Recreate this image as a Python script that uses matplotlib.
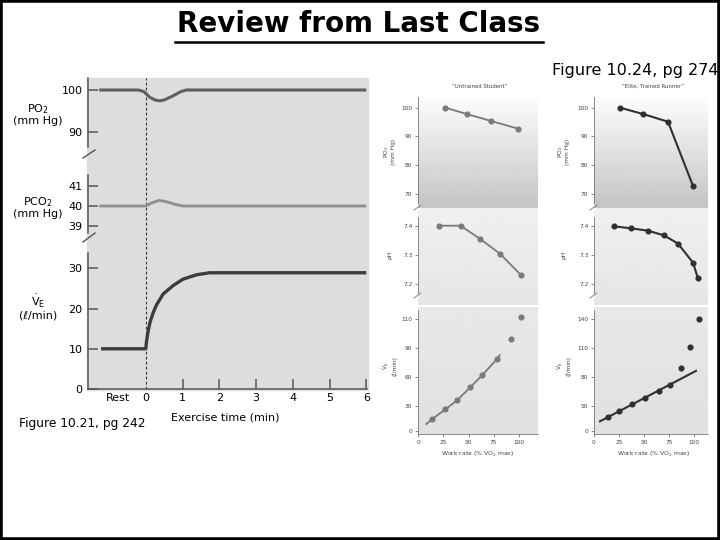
import numpy as np
import matplotlib
matplotlib.use("Agg")
import matplotlib.pyplot as plt
from matplotlib.patches import Rectangle
from matplotlib.lines import Line2D

# ---- left figure (10.21): time course ----
po2_t = [-1.27, -0.2, -0.05, 0.1, 0.25, 0.38, 0.5, 0.74, 0.95, 1.1, 6.0]
po2_v = [100, 100, 99.6, 98.3, 97.6, 97.4, 97.6, 98.6, 99.6, 100, 100]
pco2_t = [-1.27, 0.0, 0.15, 0.36, 0.55, 0.8, 1.01, 6.0]
pco2_v = [40, 40, 40.15, 40.28, 40.22, 40.08, 40, 40]
ve_t = [-1.22, 0.0, 0.01, 0.05, 0.11, 0.2, 0.29, 0.47, 0.74, 1.01, 1.38, 1.74, 2.0, 6.0]
ve_v = [10, 10, 11.2, 13.8, 16.5, 19.0, 20.9, 23.6, 25.7, 27.3, 28.4, 28.9, 28.9, 28.9]
time_ticks = [-0.75, 0, 1, 2, 3, 4, 5, 6]
time_labels = ["Rest", "0", "1", "2", "3", "4", "5", "6"]

# ---- right figure (10.24): untrained vs elite ----
un_po2_x = [27, 48, 72, 99]
un_po2_y = [100, 97.8, 95.4, 92.7]
un_ph_x = [21, 42, 61, 81, 102]
un_ph_y = [7.40, 7.40, 7.356, 7.305, 7.232]
un_ve_x = [14, 26.5, 38.4, 51.3, 63.6, 77.8, 91.7, 101.9]
un_ve_y = [15, 26.4, 36.3, 49.5, 62.4, 78.6, 96.4, 111.4]
un_fit_x = [8, 14, 26.5, 38.4, 51.3, 63.6, 77.8, 81]
un_fit_y = [8.4, 14.5, 25.8, 35.8, 49.2, 62.2, 78.4, 83]

el_po2_x = [26, 49, 74, 99]
el_po2_y = [100, 97.8, 95.1, 72.7]
el_ph_x = [20, 37, 54, 70, 84, 99, 104]
el_ph_y = [7.398, 7.391, 7.383, 7.367, 7.339, 7.274, 7.22]
el_ve_x = [13.7, 25.3, 38.3, 51, 65.3, 76, 86.7, 95.7, 104.7]
el_ve_y = [29, 40, 52, 58, 66, 72, 90, 111, 140]
el_fit_x = [6, 102]
el_fit_y = [19.5, 86.6]

un_ve_ticks = [0, 30, 60, 90, 110]
el_ve_ticks = [0, 50, 80, 110, 140]
work_ticks = [0, 25, 50, 75, 100]

W, H = 720, 540


def rect(x0, y0, x1, y1):
    return [x0 / W, 1 - y1 / H, (x1 - x0) / W, (y1 - y0) / H]


def fx(x):
    return x / W


def fy(y):
    return 1 - y / H


def brk(fig, x0, y0, x1, y1, color, lw):
    fig.add_artist(Line2D([fx(x0), fx(x1)], [fy(y0), fy(y1)],
                          transform=fig.transFigure, color=color, lw=lw))


fig = plt.figure(figsize=(7.2, 5.4), dpi=100)
fig.add_artist(Rectangle((0, 0), 1, 1, transform=fig.transFigure,
                         fill=False, edgecolor="black", lw=4))

fig.text(fx(359), fy(32), "Review from Last Class", ha="center", va="baseline",
         fontsize=20, fontweight="bold")
fig.add_artist(Line2D([fx(175), fx(543)], [fy(41.5), fy(41.5)],
                      transform=fig.transFigure, color="black", lw=1.8))
fig.text(fx(552), fy(70), "Figure 10.24, pg 274", ha="left", va="center", fontsize=11.5)
fig.text(fx(19), fy(424), "Figure 10.21, pg 242", ha="left", va="center", fontsize=8.8)

# ---- left panel ----
fig.add_artist(Rectangle((fx(87), fy(390)), (368 - 87) / W, (390 - 78) / H,
                         transform=fig.transFigure, color="#dddddd", zorder=0))

ax1 = fig.add_axes(rect(88, 78, 367, 165))
ax2 = fig.add_axes(rect(88, 165, 367, 245))
ax3 = fig.add_axes(rect(88, 245, 367, 389))
spine_c = "#555555"
for ax in (ax1, ax2, ax3):
    ax.set_facecolor("none")
    ax.set_xlim(-1.575, 6.02)
    for s in ("top", "right"):
        ax.spines[s].set_visible(False)
    ax.spines["left"].set_color(spine_c)
    ax.spines["left"].set_linewidth(1.1)
    ax.tick_params(axis="y", direction="in", length=7, width=1.1, color=spine_c,
                   labelsize=8, pad=4)
    ax.axvline(0, color="#333333", lw=0.8, ls=(0, (2.5, 2)))
for ax in (ax1, ax2):
    ax.spines["bottom"].set_visible(False)
    ax.set_xticks([])

ax1.plot(po2_t, po2_v, color="#5f5f5f", lw=2.2, solid_capstyle="butt")
ax1.set_ylim(82.01, 102.88)
ax1.set_yticks([90, 100])
ax1.spines["left"].set_bounds(86.33, 102.88)

ax2.plot(pco2_t, pco2_v, color="#8e8e8e", lw=2.0, solid_capstyle="butt")
ax2.set_ylim(38.05, 42.05)
ax2.set_yticks([39, 40, 41])
ax2.spines["left"].set_bounds(38.65, 41.55)

ax3.plot(ve_t, ve_v, color="#3c3c3c", lw=2.4, solid_capstyle="butt")
ax3.set_ylim(0, 35.8)
ax3.set_yticks([0, 10, 20, 30])
ax3.spines["left"].set_bounds(0, 33.8)
ax3.spines["bottom"].set_color(spine_c)
ax3.spines["bottom"].set_linewidth(1.1)
ax3.set_xticks(time_ticks)
ax3.set_xticklabels(time_labels)
ax3.tick_params(axis="x", direction="in", length=7, width=1.1, color=spine_c,
                labelsize=8, pad=3)
ax3.xaxis.get_major_ticks()[0].tick1line.set_visible(False)
ax3.xaxis.get_major_ticks()[1].tick1line.set_visible(False)

brk(fig, 83, 158, 95, 150, spine_c, 1.0)
brk(fig, 83, 242, 95, 233, spine_c, 1.0)

fig.text(fx(38), fy(114), "PO$_2$\n(mm Hg)", ha="center", va="center",
         fontsize=8, linespacing=1.0)
fig.text(fx(38), fy(207), "PCO$_2$\n(mm Hg)", ha="center", va="center",
         fontsize=8, linespacing=1.0)
fig.text(fx(38), fy(307), "$\\dot{\\mathrm{V}}_\\mathrm{E}$\n(ℓ/min)", ha="center",
         va="center", fontsize=8, linespacing=1.1)
fig.text(fx(225), fy(418), "Exercise time (min)", ha="center", va="center", fontsize=8)

# ---- right panels ----
txt_c = "#444444"
small = 4.2


def bg(r, top, bottom):
    b = fig.add_axes(r, zorder=0)
    grad = np.linspace(bottom, top, 64).reshape(-1, 1)
    b.imshow(grad, extent=(0, 1, 0, 1), origin="lower", aspect="auto",
             cmap="gray", vmin=0, vmax=1)
    b.set_axis_off()


def ve_scale(vals):
    pos = [-25, 0, 25, 54, 83, 112, 141]
    v = [vals[0] - (vals[1] - vals[0])] + list(vals) + [vals[-1] + (vals[-1] - vals[-2])]
    fwd = lambda y: np.interp(y, v, pos)
    inv = lambda p: np.interp(p, pos, v)
    return fwd, inv


def column(x0, x1, xlim, po2, ph, ve, fit, ve_ticks, color, lw, ylab_x, title, title_x):
    r1 = rect(x0, 97, x1, 208)
    r2 = rect(x0, 208, x1, 305)
    r3 = rect(x0, 307, x1, 434)
    bg(r1, 0.99, 0.77)
    bg(r2, 0.94, 0.90)
    bg(r3, 0.91, 0.88)
    a1 = fig.add_axes(r1)
    a2 = fig.add_axes(r2)
    a3 = fig.add_axes(r3)
    for a in (a1, a2, a3):
        a.set_facecolor("none")
        a.set_xlim(*xlim)
        for s in ("top", "right"):
            a.spines[s].set_visible(False)
        a.spines["left"].set_color("#777777")
        a.spines["left"].set_linewidth(0.6)
        a.tick_params(axis="y", direction="out", length=2.5, width=0.6, color="#777777",
                      labelsize=small, labelcolor=txt_c, pad=1.5)
    for a in (a1, a2):
        a.spines["bottom"].set_visible(False)
        a.set_xticks([])

    a1.plot(po2[0], po2[1], color=color, lw=lw, marker="o", ms=3.4)
    a1.set_ylim(65.0, 103.73)
    a1.set_yticks([70, 80, 90, 100])
    a1.spines["left"].set_bounds(66.8, 103.73)

    a2.plot(ph[0], ph[1], color=color, lw=lw, marker="o", ms=3.4)
    a2.set_ylim(7.1294, 7.4604)
    a2.set_yticks([7.2, 7.3, 7.4])
    a2.set_yticklabels(["7.2", "7.3", "7.4"])
    a2.spines["left"].set_bounds(7.17, 7.43)

    a3.set_yscale("function", functions=ve_scale(ve_ticks))
    a3.plot(fit[0], fit[1], color=color, lw=lw)
    a3.plot(ve[0], ve[1], color=color, lw=0, marker="o", ms=3.4)
    fwd, inv = ve_scale(ve_ticks)
    a3.set_ylim(float(inv(-3)), float(inv(124.5)))
    a3.set_yticks(ve_ticks)
    a3.set_yticklabels([str(t) for t in ve_ticks])
    a3.yaxis.set_minor_locator(matplotlib.ticker.NullLocator())
    a3.spines["left"].set_bounds(float(inv(-3)), float(inv(121)))
    a3.spines["bottom"].set_color("#777777")
    a3.spines["bottom"].set_linewidth(0.6)
    a3.set_xticks(work_ticks)
    a3.tick_params(axis="x", direction="out", length=2.5, width=0.6, color="#777777",
                   labelsize=small, labelcolor=txt_c, pad=1.5)

    brk(fig, x0 - 4, 210, x0 + 3, 205, "#777777", 0.6)
    brk(fig, x0 - 4, 298, x0 + 3, 293, "#777777", 0.6)

    fig.text(fx(ylab_x), fy(152), "PO$_2$\n(mm Hg)", rotation=90, ha="center",
             va="center", fontsize=small, color=txt_c, linespacing=1.0)
    fig.text(fx(ylab_x + 1), fy(255), "pH", rotation=90, ha="center", va="center",
             fontsize=small, color=txt_c)
    fig.text(fx(ylab_x), fy(366), "$\\dot{\\mathrm{V}}_\\mathrm{E}$\n(ℓ/min)", rotation=90,
             ha="center", va="center", fontsize=small, color=txt_c, linespacing=1.0)
    fig.text(fx(x0 + 60), fy(454), "Work rate (% $\\dot{\\mathrm{V}}\\mathrm{O}_2$ max)",
             ha="center", va="center", fontsize=4.4, color=txt_c)
    fig.text(fx(title_x), fy(86), title, ha="center", va="center",
             fontsize=3.9, color=txt_c)


column(418, 538, (-0.3, 119), (un_po2_x, un_po2_y), (un_ph_x, un_ph_y),
       (un_ve_x, un_ve_y), (un_fit_x, un_fit_y), un_ve_ticks, "#7a7a7a", 1.3,
       389, "\u201cUntrained Student\u201d", 480)
column(594, 708, (0, 114), (el_po2_x, el_po2_y), (el_ph_x, el_ph_y),
       (el_ve_x, el_ve_y), (el_fit_x, el_fit_y), el_ve_ticks, "#303030", 1.5,
       563, "\u201cElite, Trained Runner\u201d", 653)

fig.savefig("out.png", dpi=100)
